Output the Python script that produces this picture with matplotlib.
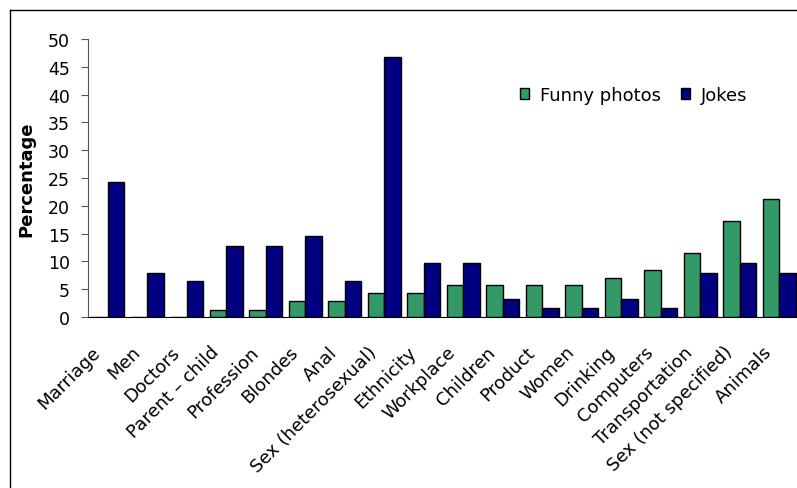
import numpy as np
import matplotlib
matplotlib.use("Agg")
import matplotlib.pyplot as plt
import matplotlib.transforms as mtransforms
from matplotlib.lines import Line2D

categories = [
    "Marriage", "Men", "Doctors", "Parent \u2013 child", "Profession", "Blondes",
    "Anal", "Sex (heterosexual)", "Ethnicity", "Workplace", "Children", "Product",
    "Women", "Drinking", "Computers", "Transportation", "Sex (not specified)", "Animals",
]
funny_photos = [0, 0, 0, 1.3, 1.3, 2.9, 2.9, 4.4, 4.4, 5.8, 5.8, 5.8, 5.8, 7.1, 8.5, 11.5, 17.2, 21.3]
jokes = [24.3, 8.0, 6.4, 12.8, 12.8, 14.5, 6.4, 46.8, 9.7, 9.7, 3.2, 1.6, 1.6, 3.2, 1.6, 8.0, 9.7, 8.0]

plt.rcParams['font.family'] = ['DejaVu Sans']

fig = plt.figure(figsize=(7.97, 4.89), dpi=100)
ax = fig.add_axes([88 / 797, 1 - 318 / 489, 711 / 797, (318 - 40) / 489])

x = np.arange(len(categories))
w = 0.42
ax.bar(x - w / 2, funny_photos, w, color='#339966', edgecolor='black', linewidth=1.0, label='Funny photos')
ax.bar(x + w / 2, jokes, w, color='#000080', edgecolor='black', linewidth=1.0, label='Jokes')

ax.set_xlim(-0.5, len(categories) - 0.5)
ax.set_ylim(0, 50)
ax.set_yticks(np.arange(0, 51, 5))
ax.tick_params(axis='y', direction='out', length=5, labelsize=12.5, color='#555555', pad=8)
ax.tick_params(axis='x', length=0, labelsize=13, pad=23)
ax.set_xticks(x)
ax.set_xticklabels(categories, rotation=45, ha='right', va='center', rotation_mode='anchor')
shift = mtransforms.ScaledTranslation(-10 / 100, 0, fig.dpi_scale_trans)
for lbl in ax.get_xticklabels():
    lbl.set_transform(lbl.get_transform() + shift)

ax.spines['top'].set_visible(False)
ax.spines['right'].set_visible(False)
ax.spines['left'].set_color('#555555')
ax.spines['bottom'].set_color('black')
ax.set_ylabel('Percentage', fontsize=13, fontweight='bold', labelpad=9)

ax.legend(loc='center', bbox_to_anchor=(634 / 797, 1 - 96 / 489), bbox_transform=fig.transFigure,
          ncol=2, frameon=False, fontsize=13, handlelength=0.5, handleheight=0.5,
          handletextpad=0.6, columnspacing=1.1)

fig.add_artist(Line2D([10 / 797, 10 / 797], [0, 1 - 11 / 489], transform=fig.transFigure, color='black', lw=1))
fig.add_artist(Line2D([10 / 797, 1], [1 - 11 / 489, 1 - 11 / 489], transform=fig.transFigure, color='black', lw=1))

fig.savefig('out.png', dpi=100)
